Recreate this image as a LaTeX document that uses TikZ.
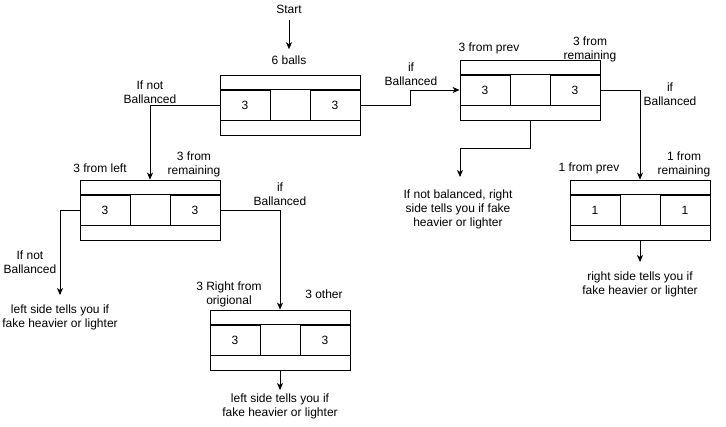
\documentclass[tikz,border=0pt]{standalone}
\usepackage{fontspec}
\setmainfont{Liberation Sans}
\usetikzlibrary{arrows.meta}

\begin{document}
\begin{tikzpicture}[x = 1pt, y = -1pt,
        every node/.style={inner sep=0pt, align=center, font=\fontsize{12}{14}\selectfont},
        every path/.style={line width=0.8pt}
]
\tikzstyle{weighing}= [draw, rectangle, minimum width=140, minimum height=60]
\tikzstyle{pan}= [draw, rectangle, minimum width=50, minimum height=30]
\tikzstyle{note}= [inner sep=6pt]
\tikzstyle{link}= [-{Stealth[length=7pt, width=6pt, inset=2pt]}]
\useasboundingbox (0,0) rectangle (726,426);

    \node[note] (start) at (289,9) {Start};
    \node[note] (balls) at (289,60) {6 balls};

    \node[weighing] (w1) at (290,105) {};
    \node[pan] (w1l) at (245,105) {3};
    \node[pan] (w1r) at (335,105) {3};
    \node[weighing] (w2) at (150,210) {};
    \node[pan] (w2l) at (105,210) {3};
    \node[pan] (w2r) at (195,210) {3};
    \node[weighing] (w3) at (280,340) {};
    \node[pan] (w3l) at (235,340) {3};
    \node[pan] (w3r) at (325,340) {3};
    \node[weighing] (w4) at (530,90) {};
    \node[pan] (w4l) at (485,90) {3};
    \node[pan] (w4r) at (575,90) {3};
    \node[weighing] (w5) at (640,210) {};
    \node[pan] (w5l) at (595,210) {1};
    \node[pan] (w5r) at (685,210) {1};

    \foreach \w in {w1,w2,w3,w4,w5} {
        \draw (\w.west |- \w l.north) -- (\w.east |- \w l.north);
        \draw (\w.west |- \w l.south) -- (\w.east |- \w l.south);
    }

    \node (l1) at (150,92) {If not\\Ballanced};
    \node (l2) at (411,74) {if\\Ballanced};
    \node (l3) at (100,168) {3 from left};
    \node (l4) at (194,164) {3 from\\remaining};
    \node (l5) at (30,262) {If not\\Ballanced};
    \node (l6) at (280,194) {if\\Ballanced};
    \node (l7) at (229,294) {3 Right from\\origional};
    \node (l8) at (324,294) {3 other};
    \node (l9) at (489,48) {3 from prev};
    \node (l10) at (590,49) {3 from\\remaining};
    \node (l11) at (670,94) {if\\Ballanced};
    \node (l12) at (589,168) {1 from prev};
    \node (l13) at (684,164) {1 from\\remaining};

    \node (o1) at (60,317) {left side tells you if\\fake heavier or lighter};
    \node (o2) at (280,406) {left side tells you if\\fake heavier or lighter};
    \node (o3) at (458,209) {If not balanced, right\\side tells you if fake\\heavier or lighter};
    \node (o4) at (640,284) {right side tells you if\\fake heavier or lighter};

    \coordinate (e1) at (60,295);
    \coordinate (e2) at (460,177);
    \coordinate (e3) at (280,390);
    \coordinate (e4) at (640,262);

\begin{scope}[every path/.style={link, line width=0.8pt}]
    \draw (start) -- (balls);
    \draw (w1l.west) -| (w2.north);
    \draw (w1r.east) -- ++(50,0) |- (w4l.west);
    \draw (w2l.west) -| (e1);
    \draw (w2r.east) -| (w3.north);
    \draw (w3.south) -- (e3);
    \draw (w4.south) -- ++(0,28) -| (e2);
    \draw (w4r.east) -| (w5.north);
    \draw (w5.south) -- (e4);
\end{scope}

\end{tikzpicture}
\end{document}
